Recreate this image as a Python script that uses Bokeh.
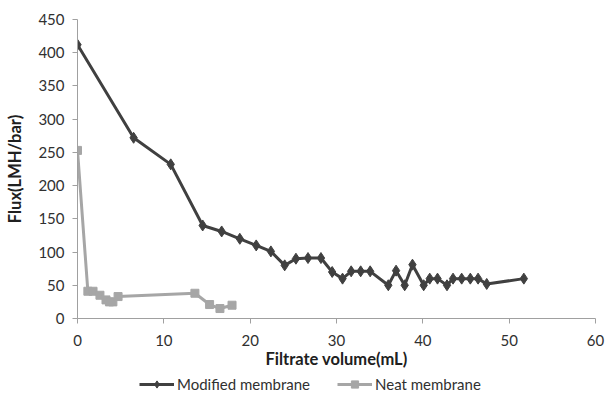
from bokeh.plotting import figure
from bokeh.layouts import column
from bokeh.models import Legend, LegendItem, FixedTicker
from bokeh.embed import file_html
from bokeh.resources import INLINE

mod_x = [0, 6.5, 10.8, 14.5, 16.7, 18.8, 20.7, 22.4, 24.0, 25.3, 26.7, 28.2, 29.5, 30.7, 31.7,
         32.8, 33.9, 36.0, 36.9, 37.9, 38.8, 40.1, 40.8, 41.7, 42.8, 43.5, 44.5, 45.5, 46.4, 47.4, 51.7]
mod_y = [412, 272, 232, 140, 131, 120, 110, 101, 80, 90, 91, 91, 70, 60, 71,
         71, 71, 50, 72, 50, 81, 50, 60, 60, 50, 60, 60, 60, 60, 52, 60]

neat_x = [0, 1.2, 1.8, 2.6, 3.3, 3.7, 4.1, 4.7, 13.6, 15.3, 16.5, 17.9]
neat_y = [253, 41, 41, 35, 28, 25, 25, 33, 38, 21, 15, 20]

x_ticks = [0, 10, 20, 30, 40, 50, 60]
y_ticks = [0, 50, 100, 150, 200, 250, 300, 350, 400, 450]
series_names = ["Modified membrane", "Neat membrane"]

FONT = "Lato"
AX = "#a0a0a0"
DARK = "#404040"
LIGHT = "#a6a6a6"

p = figure(frame_width=518, frame_height=299, output_backend="svg", toolbar_location=None,
           x_range=(0, 60), y_range=(0, 450),
           min_border_left=77, min_border_right=10, min_border_top=19, min_border_bottom=0)
p.outline_line_color = None
p.grid.visible = False

for ax in (p.xaxis, p.yaxis):
    ax.axis_line_color = AX
    ax.major_tick_line_color = AX
    ax.minor_tick_line_color = None
    ax.major_tick_out = 5
    ax.major_tick_in = 0
    ax.major_label_text_font = FONT
    ax.major_label_text_font_size = "15px"
    ax.major_label_text_color = "#303030"
    ax.axis_label_text_font = FONT
    ax.axis_label_text_font_size = "16.5px"
    ax.axis_label_text_font_style = "bold"
    ax.axis_label_text_color = "#202020"

p.xaxis.ticker = FixedTicker(ticks=x_ticks)
p.yaxis.ticker = FixedTicker(ticks=y_ticks)
p.xaxis.axis_label = "Filtrate volume(mL)"
p.yaxis.axis_label = "Flux(LMH/bar)"
p.xaxis.major_label_standoff = 11
p.yaxis.major_label_standoff = 8
p.xaxis.axis_label_standoff = 0
p.yaxis.axis_label_standoff = 10

p.line(mod_x, mod_y, line_color=DARK, line_width=3)
p.scatter(mod_x, mod_y, marker="diamond", size=11, fill_color=DARK, line_color=DARK)
p.line(neat_x, neat_y, line_color=LIGHT, line_width=3)
p.scatter(neat_x, neat_y, marker="square", size=8, fill_color=LIGHT, line_color=LIGHT)

# legend strip below the chart (its renderers lie outside its visible range)
pl = figure(frame_width=518, frame_height=24, output_backend="svg", toolbar_location=None,
            x_range=(0, 1), y_range=(1000, 1001), x_axis_type=None, y_axis_type=None,
            min_border_left=77, min_border_right=10, min_border_top=0, min_border_bottom=0)
pl.outline_line_color = None
pl.grid.visible = False
ll1 = pl.line(mod_x, mod_y, line_color=DARK, line_width=3)
ls1 = pl.scatter(mod_x, mod_y, marker="diamond", size=9, fill_color=DARK, line_color=DARK)
ll2 = pl.line(neat_x, neat_y, line_color=LIGHT, line_width=3)
ls2 = pl.scatter(neat_x, neat_y, marker="square", size=7, fill_color=LIGHT, line_color=LIGHT)

legend = Legend(items=[LegendItem(label=series_names[0], renderers=[ll1, ls1], index=0),
                       LegendItem(label=series_names[1], renderers=[ll2, ls2], index=0)],
                orientation="horizontal", location=(62, 2),
                label_text_font=FONT, label_text_font_size="15px", label_text_color="#303030",
                border_line_color=None, background_fill_alpha=0,
                glyph_width=35, glyph_height=18, label_height=18, label_standoff=3,
                spacing=27, padding=0, margin=0)
pl.add_layout(legend, "center")

open("out.html", "w").write(file_html(column(p, pl, spacing=0), INLINE))
